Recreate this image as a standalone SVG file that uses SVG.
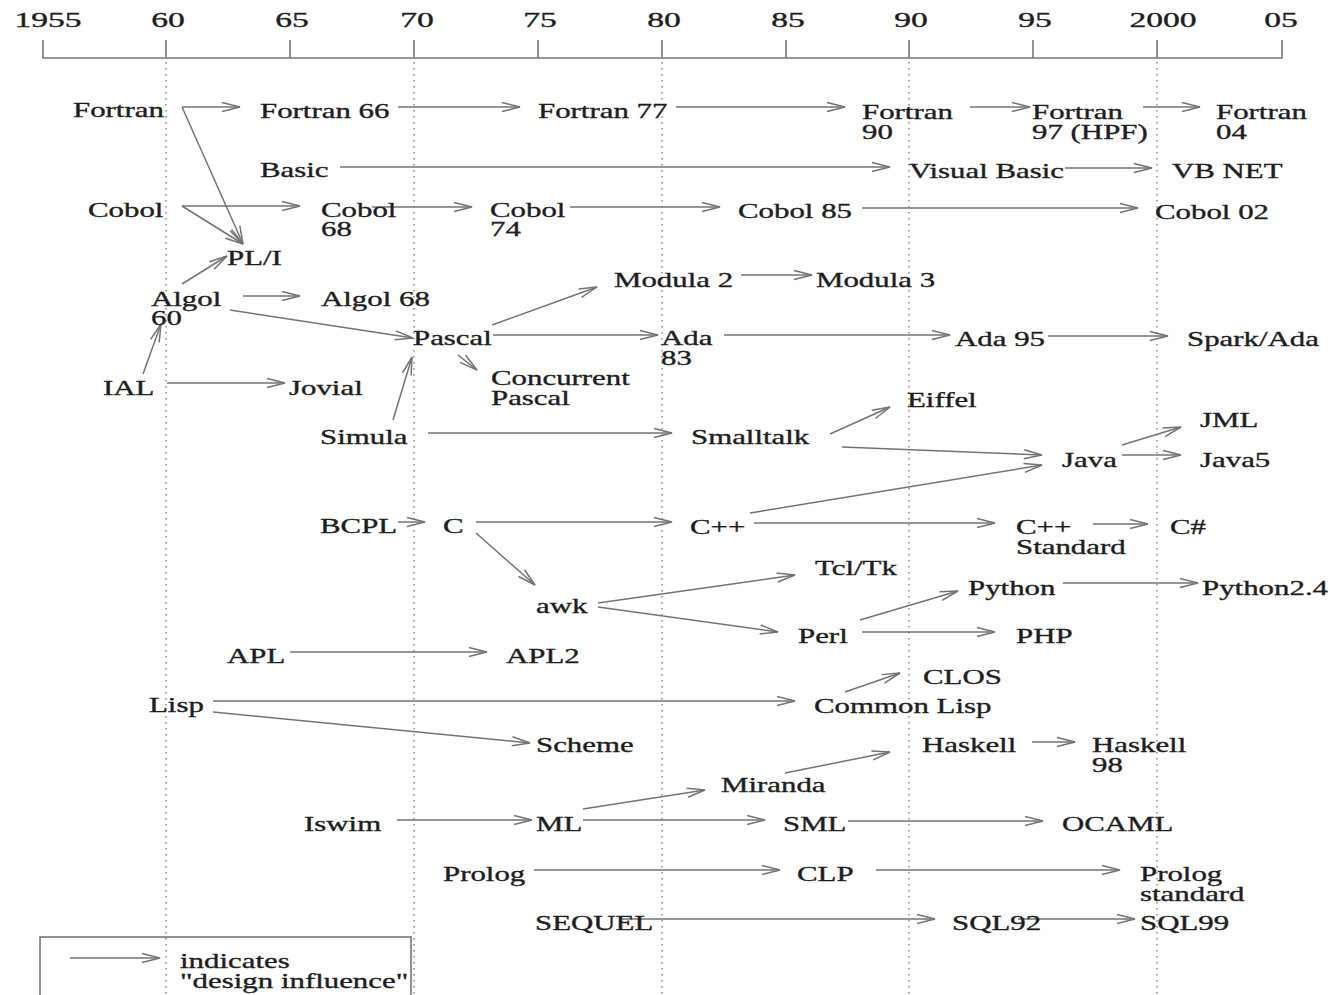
<svg xmlns="http://www.w3.org/2000/svg" width="1330" height="995" viewBox="0 0 1330 995">
<style>
.t{font-family:"Liberation Serif","Times New Roman",serif;font-size:21px;fill:#1e1e1e;stroke:#1e1e1e;stroke-width:0.35}
.y{font-family:"Liberation Serif","Times New Roman",serif;font-size:21px;fill:#1e1e1e;stroke:#1e1e1e;stroke-width:0.35;text-anchor:middle}
.ax{stroke:#777;stroke-width:1.6;fill:none}
.dot{stroke:#888;stroke-width:1.5;stroke-dasharray:1.5 4.5;fill:none}
.c line{stroke:#737373;stroke-width:1.5;fill:none;marker-end:url(#ah)}
</style>
<defs>
<marker id="ah" viewBox="-20 -6 22 12" refX="0" refY="0" markerWidth="22" markerHeight="12" markerUnits="userSpaceOnUse" orient="auto" overflow="visible">
<path d="M-18,-4.5 L0,0 L-18,4.5" fill="none" stroke="#737373" stroke-width="1.5"/>
</marker>
</defs>
<rect width="1330" height="995" fill="#fff"/>
<g id="axis">
<path class="ax" d="M43,40 V58 H1282 V40 M166,40 V58 M290,40 V58 M414,40 V58 M538,40 V58 M662,40 V58 M786,40 V58 M909,40 V58 M1033,40 V58 M1157,40 V58"/>
<text class="y" transform="translate(48 27) scale(1.6 1)">1955</text>
<text class="y" transform="translate(168 27) scale(1.6 1)">60</text>
<text class="y" transform="translate(292 27) scale(1.6 1)">65</text>
<text class="y" transform="translate(417 27) scale(1.6 1)">70</text>
<text class="y" transform="translate(540 27) scale(1.6 1)">75</text>
<text class="y" transform="translate(664 27) scale(1.6 1)">80</text>
<text class="y" transform="translate(788 27) scale(1.6 1)">85</text>
<text class="y" transform="translate(911 27) scale(1.6 1)">90</text>
<text class="y" transform="translate(1035 27) scale(1.6 1)">95</text>
<text class="y" transform="translate(1163 27) scale(1.6 1)">2000</text>
<text class="y" transform="translate(1281 27) scale(1.6 1)">05</text>
<path class="dot" d="M166,62 V995 M414,62 V995 M662,62 V995 M909,62 V995 M1157,62 V995"/>
</g>
<g id="connectors" class="c">
<line x1="182" y1="107" x2="240" y2="107"/>
<line x1="182" y1="107" x2="243" y2="244"/>
<line x1="340" y1="167" x2="890" y2="167"/>
<line x1="182" y1="206" x2="300" y2="206"/>
<line x1="182" y1="206" x2="243" y2="244"/>
<line x1="372" y1="207" x2="472" y2="207"/>
<line x1="570" y1="207" x2="720" y2="207"/>
<line x1="862" y1="208" x2="1138" y2="208"/>
<line x1="398" y1="107" x2="520" y2="107"/>
<line x1="676" y1="107" x2="845" y2="107"/>
<line x1="970" y1="107" x2="1030" y2="107"/>
<line x1="1143" y1="107" x2="1200" y2="107"/>
<line x1="1065" y1="168" x2="1152" y2="168"/>
<line x1="182" y1="284" x2="227" y2="256"/>
<line x1="243" y1="296" x2="300" y2="296"/>
<line x1="230" y1="310" x2="413" y2="338"/>
<line x1="143" y1="374" x2="161" y2="324"/>
<line x1="167" y1="383" x2="285" y2="383"/>
<line x1="393" y1="420" x2="412" y2="357"/>
<line x1="492" y1="325" x2="597" y2="287"/>
<line x1="493" y1="335" x2="658" y2="335"/>
<line x1="458" y1="355" x2="477" y2="370"/>
<line x1="741" y1="275" x2="812" y2="275"/>
<line x1="724" y1="335" x2="950" y2="335"/>
<line x1="1048" y1="336" x2="1168" y2="336"/>
<line x1="428" y1="433" x2="672" y2="433"/>
<line x1="830" y1="434" x2="890" y2="407"/>
<line x1="842" y1="447" x2="1042" y2="455"/>
<line x1="750" y1="513" x2="1042" y2="465"/>
<line x1="1122" y1="445" x2="1181" y2="427"/>
<line x1="1122" y1="455" x2="1181" y2="455"/>
<line x1="398" y1="522" x2="425" y2="522"/>
<line x1="476" y1="522" x2="672" y2="522"/>
<line x1="476" y1="533" x2="535" y2="585"/>
<line x1="754" y1="523" x2="995" y2="523"/>
<line x1="1093" y1="524" x2="1148" y2="524"/>
<line x1="598" y1="603" x2="795" y2="575"/>
<line x1="598" y1="607" x2="778" y2="632"/>
<line x1="860" y1="620" x2="958" y2="591"/>
<line x1="862" y1="632" x2="995" y2="632"/>
<line x1="1063" y1="583" x2="1198" y2="583"/>
<line x1="290" y1="652" x2="487" y2="652"/>
<line x1="213" y1="701" x2="795" y2="701"/>
<line x1="213" y1="712" x2="530" y2="743"/>
<line x1="845" y1="692" x2="900" y2="673"/>
<line x1="785" y1="773" x2="890" y2="752"/>
<line x1="1032" y1="742" x2="1075" y2="742"/>
<line x1="583" y1="809" x2="705" y2="790"/>
<line x1="397" y1="820" x2="532" y2="820"/>
<line x1="583" y1="820" x2="765" y2="820"/>
<line x1="848" y1="821" x2="1043" y2="821"/>
<line x1="534" y1="870" x2="780" y2="870"/>
<line x1="876" y1="870" x2="1120" y2="870"/>
<line x1="620" y1="919" x2="935" y2="919"/>
<line x1="1018" y1="919" x2="1135" y2="919"/>
</g>
<g id="n-fortran"><text class="t" transform="translate(73 117) scale(1.47 1)">Fortran</text></g>
<g id="n-fortran66"><text class="t" transform="translate(260 118) scale(1.47 1)">Fortran 66</text></g>
<g id="n-fortran77"><text class="t" transform="translate(538 118) scale(1.47 1)">Fortran 77</text></g>
<g id="n-fortran90"><text class="t" transform="translate(862 119) scale(1.47 1)"><tspan x="0">Fortran</tspan><tspan x="0" dy="20">90</tspan></text></g>
<g id="n-fortran97"><text class="t" transform="translate(1032 119) scale(1.47 1)"><tspan x="0">Fortran</tspan><tspan x="0" dy="20">97 (HPF)</tspan></text></g>
<g id="n-fortran04"><text class="t" transform="translate(1216 119) scale(1.47 1)"><tspan x="0">Fortran</tspan><tspan x="0" dy="20">04</tspan></text></g>
<g id="n-basic"><text class="t" transform="translate(260 177) scale(1.47 1)">Basic</text></g>
<g id="n-visualbasic"><text class="t" transform="translate(909 178) scale(1.47 1)">Visual Basic</text></g>
<g id="n-vbnet"><text class="t" transform="translate(1172 178) scale(1.47 1)">VB NET</text></g>
<g id="n-cobol"><text class="t" transform="translate(88 217) scale(1.47 1)">Cobol</text></g>
<g id="n-cobol68"><text class="t" transform="translate(321 217) scale(1.47 1)"><tspan x="0">Cobol</tspan><tspan x="0" dy="19">68</tspan></text></g>
<g id="n-cobol74"><text class="t" transform="translate(490 217) scale(1.47 1)"><tspan x="0">Cobol</tspan><tspan x="0" dy="19">74</tspan></text></g>
<g id="n-cobol85"><text class="t" transform="translate(738 218) scale(1.47 1)">Cobol 85</text></g>
<g id="n-cobol02"><text class="t" transform="translate(1155 219) scale(1.47 1)">Cobol 02</text></g>
<g id="n-pli"><text class="t" transform="translate(227 265) scale(1.47 1)">PL/I</text></g>
<g id="n-algol60"><text class="t" transform="translate(151 306) scale(1.47 1)"><tspan x="0">Algol</tspan><tspan x="0" dy="19">60</tspan></text></g>
<g id="n-algol68"><text class="t" transform="translate(321 306) scale(1.47 1)">Algol 68</text></g>
<g id="n-modula2"><text class="t" transform="translate(614 287) scale(1.47 1)">Modula 2</text></g>
<g id="n-modula3"><text class="t" transform="translate(816 287) scale(1.47 1)">Modula 3</text></g>
<g id="n-pascal"><text class="t" transform="translate(413 345) scale(1.47 1)">Pascal</text></g>
<g id="n-ada83"><text class="t" transform="translate(661 345) scale(1.47 1)"><tspan x="0">Ada</tspan><tspan x="0" dy="20">83</tspan></text></g>
<g id="n-ada95"><text class="t" transform="translate(955 346) scale(1.47 1)">Ada 95</text></g>
<g id="n-sparkada"><text class="t" transform="translate(1187 346) scale(1.47 1)">Spark/Ada</text></g>
<g id="n-ial"><text class="t" transform="translate(103 395) scale(1.47 1)">IAL</text></g>
<g id="n-jovial"><text class="t" transform="translate(289 395) scale(1.47 1)">Jovial</text></g>
<g id="n-concurrentpascal"><text class="t" transform="translate(491 385) scale(1.47 1)"><tspan x="0">Concurrent</tspan><tspan x="0" dy="20">Pascal</tspan></text></g>
<g id="n-eiffel"><text class="t" transform="translate(907 407) scale(1.47 1)">Eiffel</text></g>
<g id="n-simula"><text class="t" transform="translate(320 444) scale(1.47 1)">Simula</text></g>
<g id="n-smalltalk"><text class="t" transform="translate(691 444) scale(1.47 1)">Smalltalk</text></g>
<g id="n-jml"><text class="t" transform="translate(1200 427) scale(1.47 1)">JML</text></g>
<g id="n-java"><text class="t" transform="translate(1062 467) scale(1.47 1)">Java</text></g>
<g id="n-java5"><text class="t" transform="translate(1200 467) scale(1.47 1)">Java5</text></g>
<g id="n-bcpl"><text class="t" transform="translate(320 533) scale(1.47 1)">BCPL</text></g>
<g id="n-c"><text class="t" transform="translate(443 533) scale(1.47 1)">C</text></g>
<g id="n-cpp"><text class="t" transform="translate(690 534) scale(1.47 1)">C++</text></g>
<g id="n-cppstandard"><text class="t" transform="translate(1016 534) scale(1.47 1)"><tspan x="0">C++</tspan><tspan x="0" dy="20">Standard</tspan></text></g>
<g id="n-csharp"><text class="t" transform="translate(1170 534) scale(1.47 1)">C#</text></g>
<g id="n-tcltk"><text class="t" transform="translate(815 575) scale(1.47 1)">Tcl/Tk</text></g>
<g id="n-awk"><text class="t" transform="translate(536 613) scale(1.47 1)">awk</text></g>
<g id="n-python"><text class="t" transform="translate(968 595) scale(1.47 1)">Python</text></g>
<g id="n-python24"><text class="t" transform="translate(1202 595) scale(1.47 1)">Python2.4</text></g>
<g id="n-perl"><text class="t" transform="translate(798 643) scale(1.47 1)">Perl</text></g>
<g id="n-php"><text class="t" transform="translate(1016 643) scale(1.47 1)">PHP</text></g>
<g id="n-apl"><text class="t" transform="translate(227 663) scale(1.47 1)">APL</text></g>
<g id="n-apl2"><text class="t" transform="translate(506 663) scale(1.47 1)">APL2</text></g>
<g id="n-clos"><text class="t" transform="translate(923 684) scale(1.47 1)">CLOS</text></g>
<g id="n-lisp"><text class="t" transform="translate(149 712) scale(1.47 1)">Lisp</text></g>
<g id="n-commonlisp"><text class="t" transform="translate(814 713) scale(1.47 1)">Common Lisp</text></g>
<g id="n-scheme"><text class="t" transform="translate(536 752) scale(1.47 1)">Scheme</text></g>
<g id="n-haskell"><text class="t" transform="translate(922 752) scale(1.47 1)">Haskell</text></g>
<g id="n-haskell98"><text class="t" transform="translate(1092 752) scale(1.47 1)"><tspan x="0">Haskell</tspan><tspan x="0" dy="20">98</tspan></text></g>
<g id="n-miranda"><text class="t" transform="translate(721 792) scale(1.47 1)">Miranda</text></g>
<g id="n-iswim"><text class="t" transform="translate(304 831) scale(1.47 1)">Iswim</text></g>
<g id="n-ml"><text class="t" transform="translate(536 831) scale(1.47 1)">ML</text></g>
<g id="n-sml"><text class="t" transform="translate(783 831) scale(1.47 1)">SML</text></g>
<g id="n-ocaml"><text class="t" transform="translate(1062 831) scale(1.47 1)">OCAML</text></g>
<g id="n-prolog"><text class="t" transform="translate(443 881) scale(1.47 1)">Prolog</text></g>
<g id="n-clp"><text class="t" transform="translate(797 881) scale(1.47 1)">CLP</text></g>
<g id="n-prologstandard"><text class="t" transform="translate(1140 881) scale(1.47 1)"><tspan x="0">Prolog</tspan><tspan x="0" dy="20">standard</tspan></text></g>
<g id="n-sequel"><text class="t" transform="translate(535 930) scale(1.47 1)">SEQUEL</text></g>
<g id="n-sql92"><text class="t" transform="translate(952 930) scale(1.47 1)">SQL92</text></g>
<g id="n-sql99"><text class="t" transform="translate(1140 930) scale(1.47 1)">SQL99</text></g>
<g id="legend">
<rect x="40" y="937" width="371" height="80" fill="none" stroke="#777" stroke-width="1.6"/>
<g class="c"><line x1="70" y1="958" x2="160" y2="958"/></g>
<text class="t" transform="translate(180 968) scale(1.47 1)"><tspan x="0">indicates</tspan><tspan x="0" dy="20">"design influence"</tspan></text>
</g>
</svg>
